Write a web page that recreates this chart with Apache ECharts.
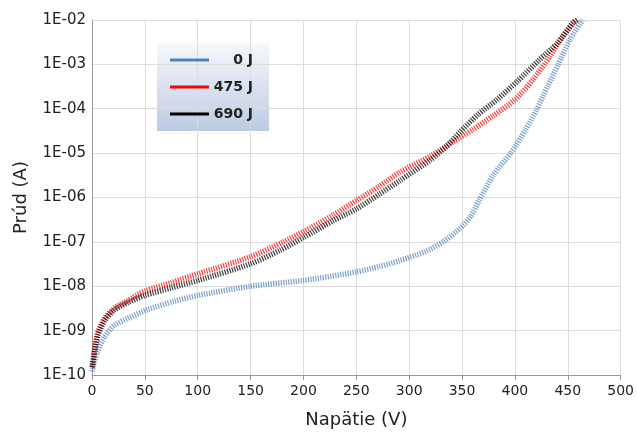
<!DOCTYPE html>
<html>
<head>
<meta charset="utf-8">
<script src="https://cdn.jsdelivr.net/npm/echarts@6/dist/echarts.min.js"></script>
<style>
html,body{margin:0;padding:0;background:#fff;}
#chart{width:637px;height:434px;}
</style>
</head>
<body>
<div id="chart"></div>
<script>
// ---- data ----
var seriesNames = ['0 J', '475 J', '690 J'];
var yTickLabels = ['1E-10','1E-09','1E-08','1E-07','1E-06','1E-05','1E-04','1E-03','1E-02'];

var blueV = [0, 2.5, 5.7, 12, 21, 34, 53, 78, 100, 150, 200, 250, 272, 290, 315, 332, 348, 358, 366, 380, 396, 410, 421, 431, 441, 452, 464];
var blueI = [1.2e-10, 2.1e-10, 3.6e-10, 7.4e-10, 1.3e-9, 1.9e-9, 3.0e-9, 4.6e-9, 6.2e-9, 1.0e-8, 1.35e-8, 2.1e-8, 2.8e-8, 3.7e-8, 6.0e-8, 1.0e-7, 2.0e-7, 3.7e-7, 8.5e-7, 3.3e-6, 1.0e-5, 3.3e-5, 1.0e-4, 3.2e-4, 1.0e-3, 3.6e-3, 1.0e-2];

var redV = [0, 1, 2.5, 5.7, 12, 21, 34, 50, 75, 100, 150, 181, 200, 228, 250, 272, 291, 320, 340, 360, 379, 400, 417, 433, 445, 457];
var redI = [1.5e-10, 1.7e-10, 4.0e-10, 9.5e-10, 1.9e-9, 3.2e-9, 4.8e-9, 7.8e-9, 1.2e-8, 1.9e-8, 4.6e-8, 1.0e-7, 1.7e-7, 4.0e-7, 8.5e-7, 1.8e-6, 3.7e-6, 8.5e-6, 1.7e-5, 3.4e-5, 6.8e-5, 1.6e-4, 4.5e-4, 1.5e-3, 4.2e-3, 1.0e-2];

var blackV = [0, 2.5, 5.7, 12, 21, 34, 50, 75, 100, 150, 178, 200, 228, 250, 272, 291, 320, 335, 348, 365, 383, 402, 423, 440, 455, 459];
var blackI = [1.5e-10, 3.5e-10, 8.0e-10, 1.7e-9, 2.9e-9, 4.3e-9, 6.2e-9, 9.2e-9, 1.35e-8, 3.2e-8, 6.5e-8, 1.25e-7, 3.0e-7, 5.5e-7, 1.2e-6, 2.4e-6, 7.0e-6, 1.4e-5, 3.0e-5, 7.4e-5, 1.6e-4, 4.1e-4, 1.26e-3, 3.0e-3, 8.5e-3, 1.0e-2];

function pairs(xs, ys) { return xs.map(function (x, i) { return [x, ys[i]]; }); }

var colors = ['#4f81bd', '#ff0000', '#000000'];
var dataSets = [pairs(blueV, blueI), pairs(redV, redI), pairs(blackV, blackI)];

var chart = echarts.init(document.getElementById('chart'), null, {renderer: 'canvas'});

var series = dataSets.map(function (d, i) {
  return {
    name: seriesNames[i],
    type: 'line',
    data: d,
    showSymbol: false,
    smooth: 0.25,
    color: colors[i],
    lineStyle: {color: colors[i], width: 5.5, type: [1.2, 1.3], opacity: 0.75},
    z: 3 + i,
    animation: false
  };
});

chart.setOption({
  animation: false,
  grid: {left: 92, right: 16, top: 20, bottom: 57},
  graphic: [{
    type: 'rect',
    left: 157, top: 43, z: 0,
    shape: {width: 112, height: 88},
    style: {
      fill: new echarts.graphic.LinearGradient(0, 0, 0, 1, [
        {offset: 0, color: '#f6f8fc'},
        {offset: 1, color: '#bccbe3'}
      ])
    }
  }],
  legend: {
    orient: 'vertical',
    left: 170, top: 51,
    padding: 0,
    itemWidth: 39, itemHeight: 3,
    itemGap: 9,
    itemTextGap: 4,
    icon: 'rect',
    data: seriesNames,
    formatter: '{t|{name}}',
    textStyle: {
      rich: {t: {width: 39, align: 'right', fontSize: 14, fontWeight: 'bold',
                 fontFamily: 'DejaVu Sans', color: '#222', lineHeight: 18, height: 18}}
    },
    z: 10
  },
  xAxis: {
    type: 'value', min: 0, max: 500, interval: 50,
    name: 'Napätie (V)', nameLocation: 'middle', nameGap: 36,
    nameTextStyle: {fontFamily: 'DejaVu Sans', fontSize: 18, color: '#222'},
    axisLine: {show: true, lineStyle: {color: '#999', width: 1}},
    axisTick: {show: true, length: 5, lineStyle: {color: '#999'}},
    axisLabel: {fontFamily: 'DejaVu Sans', fontSize: 14, color: '#222', margin: 9},
    splitLine: {show: true, lineStyle: {color: '#dcdcdc', width: 1}}
  },
  yAxis: {
    type: 'log', logBase: 10, min: 1e-10, max: 1e-2, splitNumber: 8,
    name: 'Prúd (A)', nameLocation: 'middle', nameGap: 62, nameRotate: 90,
    nameTextStyle: {fontFamily: 'DejaVu Sans', fontSize: 18, color: '#222'},
    axisLine: {show: true, lineStyle: {color: '#999', width: 1}},
    axisTick: {show: false},
    axisLabel: {
      fontFamily: 'DejaVu Sans', fontSize: 15, color: '#222', margin: 6,
      formatter: function (v) { return yTickLabels[Math.round(Math.log10(v)) + 10]; }
    },
    splitLine: {show: true, lineStyle: {color: '#dcdcdc', width: 1}}
  },
  series: series
});
</script>
</body>
</html>
